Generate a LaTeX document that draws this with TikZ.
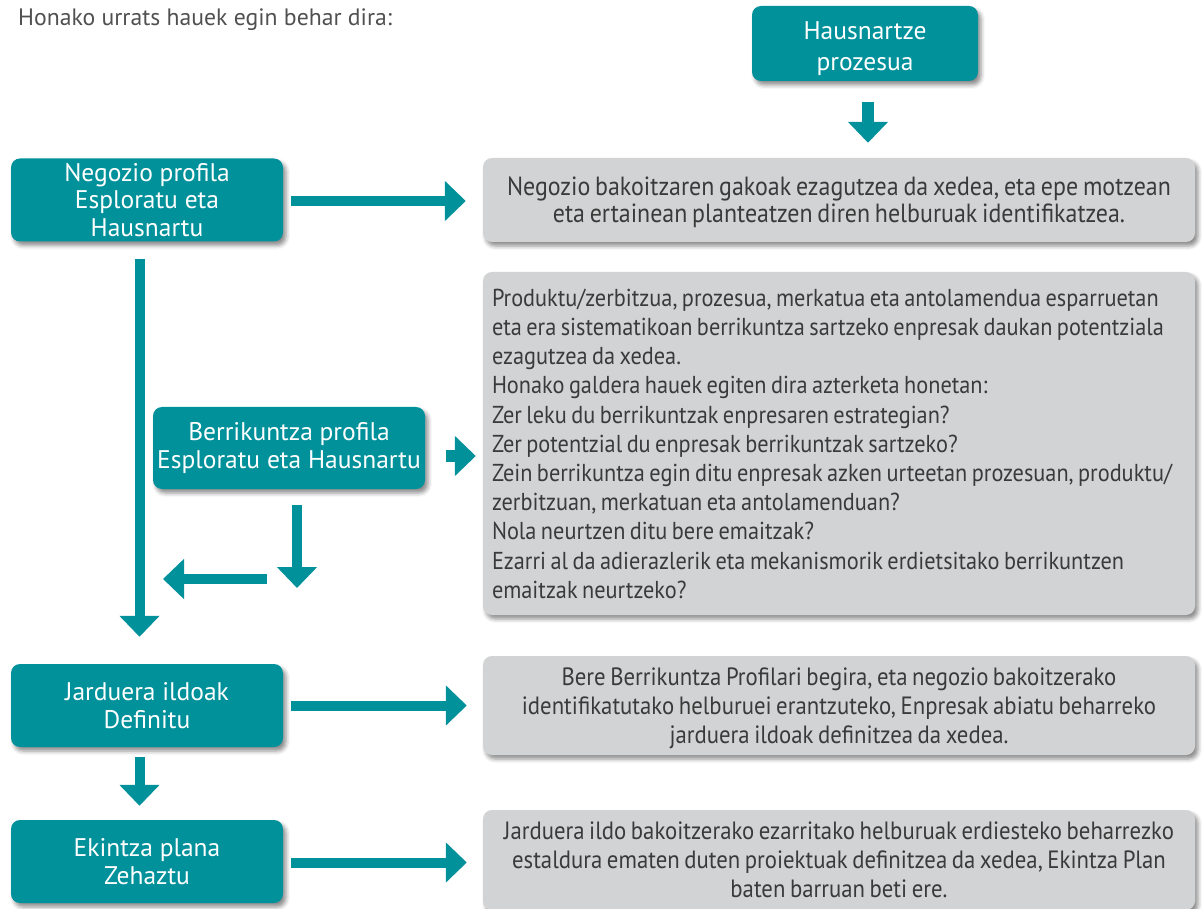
\documentclass[tikz,border=0pt]{standalone}
\usepackage{fontspec}
\setmainfont{PT Sans}
\newfontfamily\narrowfont[FakeStretch=0.91,WordSpace=0.75]{PT Sans}
\usetikzlibrary{arrows.meta,shadows.blur}
\definecolor{tealbox}{HTML}{00919B}
\definecolor{notegray}{HTML}{D1D3D4}
\definecolor{notetext}{HTML}{3A3A3A}
\definecolor{introtext}{HTML}{505050}
\begin{document}
\begin{tikzpicture}[x=1pt,y=-1pt,
  boxshadow/.style={blur shadow={shadow xshift=3pt,shadow yshift=-4pt,shadow blur radius=4pt,shadow opacity=45}},
  stepbox/.style={fill=tealbox, rounded corners=9pt, text=white,
    font=\fontsize{25.5}{28.5}\selectfont, align=center,
    minimum width=272pt, minimum height=83pt, inner sep=0pt, boxshadow},
  notebox/.style={fill=notegray, rounded corners=9pt, text=notetext,
    font=\narrowfont\fontsize{25}{29.2}\selectfont, align=center,
    minimum width=712pt, inner sep=0pt, boxshadow},
  notelines/.style={anchor=base west, inner sep=0pt, text=notetext,
    font=\narrowfont\fontsize{24.5}{29.2}\selectfont},
  arr/.style={draw=tealbox, line width=10pt, -{Triangle[length=21pt,width=39pt]}},
  arrthick/.style={arr, line width=12pt}]
\useasboundingbox (0,0) rectangle (1203,909);

% intro line
\node[anchor=base west, text=introtext, font=\fontsize{23.7}{27}\selectfont, inner sep=0pt]
  (intro) at (18,26) {Honako urrats hauek egin behar dira:};

% teal step boxes
\node[stepbox, minimum width=226pt, minimum height=75pt, font=\fontsize{25.5}{31}\selectfont]
  (hp) at (865,43.5) {\rule{0pt}{28pt}Hausnartze\\prozesua};
\node[stepbox, font=\fontsize{25.5}{27.5}\selectfont] (neg) at (147,200) {Negozio profila\\Esploratu eta\\Hausnartu};
\node[stepbox, minimum height=82pt] (berr) at (289,448) {Berrikuntza profila\\Esploratu eta Hausnartu};
\node[stepbox] (jar) at (147,705.5) {Jarduera ildoak\\Definitu};
\node[stepbox] (ekz) at (147,861.5) {Ekintza plana\\Zehaztu};

% grey description boxes
\node[notebox, minimum height=84pt, font=\narrowfont\fontsize{26.3}{27}\selectfont] (g1) at (839,200)
  {\rule{0pt}{24pt}Negozio bakoitzaren gakoak ezagutzea da xedea, eta epe motzean\\
   eta ertainean planteatzen diren helburuak identifikatzea.};
\node[notebox, minimum height=343pt] (g2) at (839,443.5) {};
% its text, one line per node, baselines 29.2pt apart
\foreach \txt [count=\i from 0] in {
   {Produktu/zerbitzua, prozesua, merkatua eta antolamendua esparruetan},
   {eta era sistematikoan berrikuntza sartzeko enpresak daukan potentziala},
   {ezagutzea da xedea.},
   {Honako galdera hauek egiten dira azterketa honetan:},
   {Zer leku du berrikuntzak enpresaren estrategian?},
   {Zer potentzial du enpresak berrikuntzak sartzeko?},
   {Zein berrikuntza egin ditu enpresak azken urteetan prozesuan, produktu/},
   {zerbitzuan, merkatuan eta antolamenduan?},
   {Nola neurtzen ditu bere emaitzak?},
   {Ezarri al da adierazlerik eta mekanismorik erdietsitako berrikuntzen},
   {emaitzak neurtzeko?}}
  \node[notelines] (g2l\i) at ([xshift=9pt,yshift={-34.5pt-29.2pt*\i}]g2.north west) {\txt};
\node[notebox, minimum height=99pt] (g3) at (839,705.5)
  {\rule{0pt}{23pt}Bere Berrikuntza Profilari begira, eta negozio bakoitzerako\\
   identifikatutako helburuei erantzuteko, Enpresak abiatu beharreko\\
   jarduera ildoak definitzea da xedea.};
\node[notebox, minimum height=100pt] (g4) at (839,860)
  {Jarduera ildo bakoitzerako ezarritako helburuak erdiesteko beharrezko\\
   estaldura ematen duten proiektuak definitzea da xedea, Ekintza Plan\\
   baten barruan beti ere.};

% free ends of the merge arrows
\coordinate (dropEnd) at (297,588);
\coordinate (leftStart) at (267,579);
\coordinate (leftEnd) at (163,579);

% connectors
\draw[arrthick] ([xshift=3pt,yshift=-21pt]hp.south) -- ([xshift=29pt,yshift=15pt]g1.north);
\draw[arr] ([xshift=8pt,yshift=-1pt]neg.east) -- ([xshift=-17pt,yshift=-1pt]g1.west);
\draw[arr] ([xshift=-7.5pt,yshift=-17pt]neg.south) -- ([xshift=-7.5pt,yshift=27pt]jar.north);
\draw[arrthick] ([xshift=21pt,yshift=-8pt]berr.east) -- ([xshift=-7pt,yshift=-12.5pt]g2.west);
\draw[arr] ([xshift=8pt,yshift=-16pt]berr.south) -- (dropEnd);
\draw[arr] (leftStart) -- (leftEnd);
\draw[arr] ([xshift=8pt]jar.east) -- ([xshift=-16pt]jar.east -| g3.west);
\draw[arr] ([xshift=-7.5pt,yshift=-10pt]jar.south) -- ([xshift=-7.5pt,yshift=14pt]ekz.north);
\draw[arr] ([xshift=8pt,yshift=-1pt]ekz.east) -- ([xshift=-16pt,yshift=-1pt]ekz.east -| g4.west);
\end{tikzpicture}
\end{document}
